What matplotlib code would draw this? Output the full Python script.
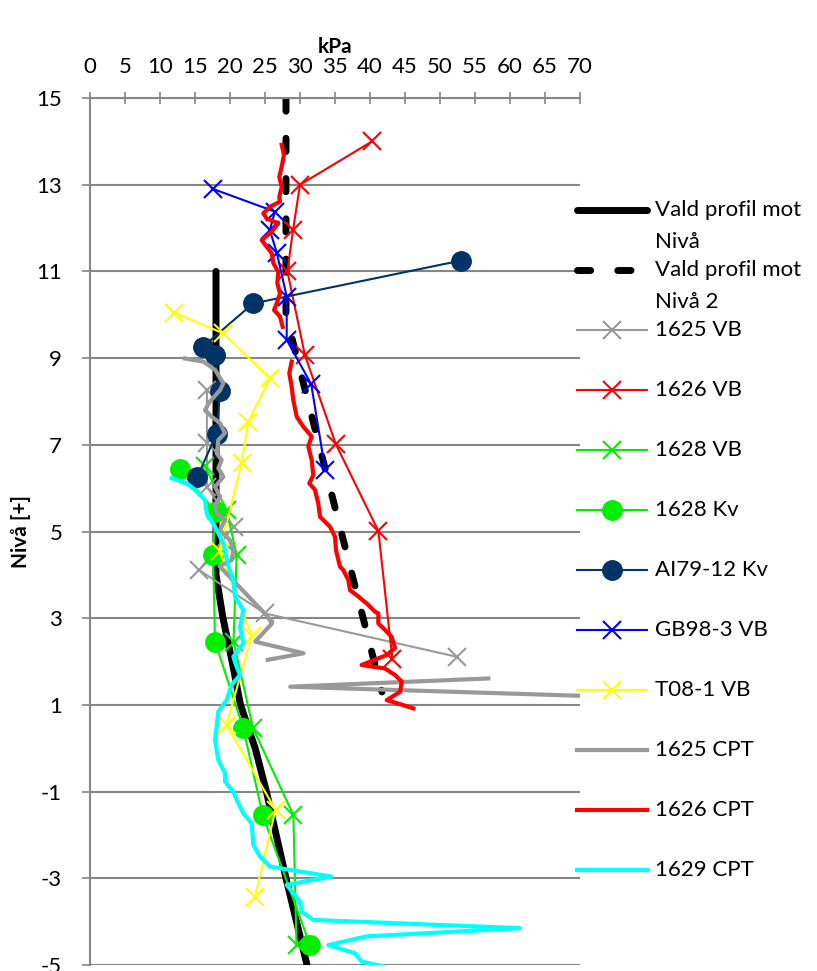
import matplotlib
matplotlib.use("Agg")
import matplotlib.pyplot as plt

plt.rcParams['font.family'] = ['Lato', 'DejaVu Sans']
plt.rcParams['axes.unicode_minus'] = False

# ---- data (kPa, Nivå) ----
vald1_kpa = [18, 18, 19.0, 20.3, 21.5, 23.6, 25.2, 28.0, 31.0]
vald1_niva = [11, 4, 3, 2, 1, 0, -1, -3, -5]

vald2_kpa = [28, 28, 41.7]
vald2_niva = [15, 10, 1.3]

vb1625_kpa = [16.7, 16.7, 16.7, 20.5, 15.6, 25.0, 52.4]
vb1625_niva = [8.26, 7.03, 6.03, 5.11, 4.11, 3.11, 2.11]

vb1626_kpa = [40.3, 30.0, 29.0, 28.2, 30.7, 35.1, 41.2, 43.2]
vb1626_niva = [14.0, 13.0, 11.95, 11.0, 9.07, 7.02, 5.01, 2.05]

vb1628_kpa = [16.4, 19.5, 20.95, 20.5, 23.3, 29.05, 29.5]
vb1628_niva = [6.5, 5.5, 4.46, 2.46, 0.46, -1.54, -4.54]

kv1628_kpa = [12.86, 17.86, 17.6, 17.86, 21.9, 24.67, 31.43]
kv1628_niva = [6.45, 5.46, 4.46, 2.46, 0.46, -1.54, -4.54]

ai79_kpa = [53.0, 23.3, 16.1, 17.86, 18.57, 18.1, 15.33]
ai79_niva = [11.25, 10.26, 9.26, 9.07, 8.25, 7.26, 6.26]

gb98_kpa = [17.6, 26.4, 25.7, 26.7, 28.1, 28.1, 31.6, 33.6]
gb98_niva = [12.9, 12.38, 11.95, 11.42, 10.42, 9.42, 8.4, 6.42]

t08_kpa = [12.05, 19.05, 25.7, 22.6, 21.67, 18.5, 23.1, 19.5, 26.5, 23.57]
t08_niva = [10.05, 9.57, 8.53, 7.53, 6.57, 4.55, 2.6, 0.54, -1.42, -3.42]

cpt1625_kpa = [13.57, 16.19, 17.86, 19.05, 18.57, 17.14, 16.43, 17.38, 18.57, 19.29,
               18.33, 18.1, 18.81, 18.33, 19.05, 17.86, 18.57, 17.86, 18.1, 19.29,
               18.57, 20.0, 20.48, 20.24, 18.5, 25.2, 26.0, 23.6, 30.5, 25.4,
               None, 56.9, 28.6, 78.0]
cpt1625_niva = [8.99, 8.92, 8.73, 8.42, 8.26, 8.0, 7.8, 7.65, 7.5, 7.27,
                7.11, 6.8, 6.65, 6.46, 6.26, 6.03, 5.8, 5.61, 5.42, 5.27,
                5.03, 4.8, 4.57, 4.34, 4.2, 3.07, 2.88, 2.46, 2.19, 2.04,
                None, 1.61, 1.42, 1.17]

cpt1626_kpa = [27.39, 27.71, 27.39, 27.04, 27.39, 27.04, 27.14, 25.71, 24.76, 25.24,
               26.9, 25.96, 24.53, 25.24, 25.96, 26.19, 26.9, 26.76, 27.14, 26.67,
               26.29, 27.14, 27.53, None,
               28.81, 28.47, 28.81, 29.04, 29.53, 30.47, 31.67, 31.19, 31.67, 31.9,
               31.33, 32.14, 32.61, 32.86, 34.29, 35.0, 35.14, 35.71, 36.19, 36.9,
               37.14, 38.33, 39.53, 40.71, 41.19, 41.19, 42.14, 43.1, 43.57, 42.39,
               38.81, 42.14, 43.57, 44.53, 44.29, 42.39, 44.04, 46.19]
cpt1626_niva = [13.92, 13.69, 13.42, 13.18, 12.95, 12.72, 12.61, 12.49, 12.34, 12.22,
                12.11, 11.92, 11.72, 11.57, 11.42, 11.19, 10.99, 10.73, 10.49, 10.26,
                10.11, 9.96, 9.72, None,
                8.92, 8.65, 8.34, 8.03, 7.65, 7.42, 7.19, 6.96, 6.65, 6.3,
                6.11, 5.96, 5.65, 5.34, 5.11, 4.88, 4.57, 4.19, 4.11, 3.88,
                3.65, 3.5, 3.34, 3.15, 3.11, 2.88, 2.73, 2.57, 2.31, 2.15,
                1.92, 1.84, 1.69, 1.54, 1.3, 1.11, 1.03, 0.92]

cpt1629_kpa = [11.67, 13.81, 15.0, 16.43, 16.67, 17.86, 19.05, 19.76, 20.48, 20.71,
               21.9, 21.43, 21.9, 20.48, 20.95, 21.43, 20.24, 19.52, 18.33, 18.1,
               17.86, 18.33, 19.29, 19.29, 20.48, 20.95, 21.9, 23.1, 23.33, 24.29,
               25.7, 34.5, 28.1, 30.0, 30.24, 31.9, 61.4, 39.5, 34.05, 37.86,
               38.8, 42.4]
cpt1629_niva = [6.23, 6.11, 5.96, 5.73, 5.42, 5.11, 4.73, 4.2, 3.88, 3.5,
                3.19, 2.8, 2.42, 2.11, 1.88, 1.69, 1.46, 1.11, 0.84, 0.5,
                0.19, -0.27, -0.58, -0.77, -1.0, -1.19, -1.5, -1.73, -2.23, -2.5,
                -2.73, -2.96, -3.15, -3.54, -3.77, -3.96, -4.15, -4.34, -4.54, -4.73,
                -4.92, -5.05]

x_ticks = list(range(0, 75, 5))
y_ticks = list(range(-5, 17, 2))

GRAY = '#999999'
NAVY = '#003366'

series = [
    ("Vald profil mot\nNivå", vald1_kpa, vald1_niva, dict(color='black', lw=5, solid_capstyle='round')),
    ("Vald profil mot\nNivå 2", vald2_kpa, vald2_niva, dict(color='black', lw=5, dashes=(1.9, 3.9), dash_capstyle='round')),
    ("1625 VB", vb1625_kpa, vb1625_niva, dict(color=GRAY, lw=1.5, marker='x', ms=13, mew=1.5)),
    ("1626 VB", vb1626_kpa, vb1626_niva, dict(color='#ff0000', lw=1.5, marker='x', ms=13, mew=1.5)),
    ("1628 VB", vb1628_kpa, vb1628_niva, dict(color='#00ee00', lw=1.5, marker='x', ms=13, mew=1.5)),
    ("1628 Kv", kv1628_kpa, kv1628_niva, dict(color='#00ee00', lw=1.5, marker='o', ms=14)),
    ("AI79-12 Kv", ai79_kpa, ai79_niva, dict(color=NAVY, lw=1.5, marker='o', ms=14)),
    ("GB98-3 VB", gb98_kpa, gb98_niva, dict(color='#0000ff', lw=1.5, marker='x', ms=13, mew=1.5)),
    ("T08-1 VB", t08_kpa, t08_niva, dict(color='#ffff00', lw=1.5, marker='x', ms=13, mew=1.5)),
    ("1625 CPT", cpt1625_kpa, cpt1625_niva, dict(color=GRAY, lw=3)),
    ("1626 CPT", cpt1626_kpa, cpt1626_niva, dict(color='#ff0000', lw=3)),
    ("1629 CPT", cpt1629_kpa, cpt1629_niva, dict(color='#00ffff', lw=3)),
]

W, H = 817, 971
fig = plt.figure(figsize=(W / 100, H / 100), dpi=100)
ax = fig.add_axes([90 / W, 1 - 965 / H, 490 / W, 867 / H])

for label, xs, ys, style in series:
    xs = [float('nan') if v is None else v for v in xs]
    ys = [float('nan') if v is None else v for v in ys]
    ax.plot(xs, ys, **style)

ax.set_xlim(0, 70)
ax.set_ylim(-5, 15)
ax.set_xticks(x_ticks)
ax.set_yticks(y_ticks)
ax.xaxis.tick_top()
ax.xaxis.set_label_position('top')
ax.set_xlabel('kPa', fontsize=15, fontweight='bold', labelpad=3)
ax.set_ylabel('Nivå [+]', fontsize=15, fontweight='bold', labelpad=4)
ax.tick_params(axis='x', direction='inout', length=8, width=1.2, color='#868686',
               labelsize=16, pad=11)
ax.tick_params(axis='y', direction='out', length=6, width=1.2, color='#868686',
               labelsize=16, pad=14)
ax.grid(axis='y', color='#868686', lw=1.5)
ax.set_axisbelow(True)
for s in ['right', 'bottom']:
    ax.spines[s].set_visible(False)
for s in ['top', 'left']:
    ax.spines[s].set_color('#868686')
    ax.spines[s].set_linewidth(1.5)

# legend drawn at the right, one row every 60 px
for i, (label, xs, ys, style) in enumerate(series):
    py = 210 + 60 * i
    fy = 1 - py / H
    line_style = {k: v for k, v in style.items() if k not in ('marker', 'ms', 'mew')}
    fig.add_artist(plt.Line2D([577 / W, 647 / W], [fy, fy], transform=fig.transFigure, **line_style))
    if 'marker' in style:
        fig.add_artist(plt.Line2D([612 / W], [fy], transform=fig.transFigure, color=style['color'],
                                  marker=style['marker'], ms=style['ms'], mew=style.get('mew', 1), lw=0))
    for k, part in enumerate(label.split('\n')):
        fig.text(655 / W, 1 - (py + 32 * k) / H, part, fontsize=16, va='center', ha='left')

fig.savefig('out.png', dpi=100)
